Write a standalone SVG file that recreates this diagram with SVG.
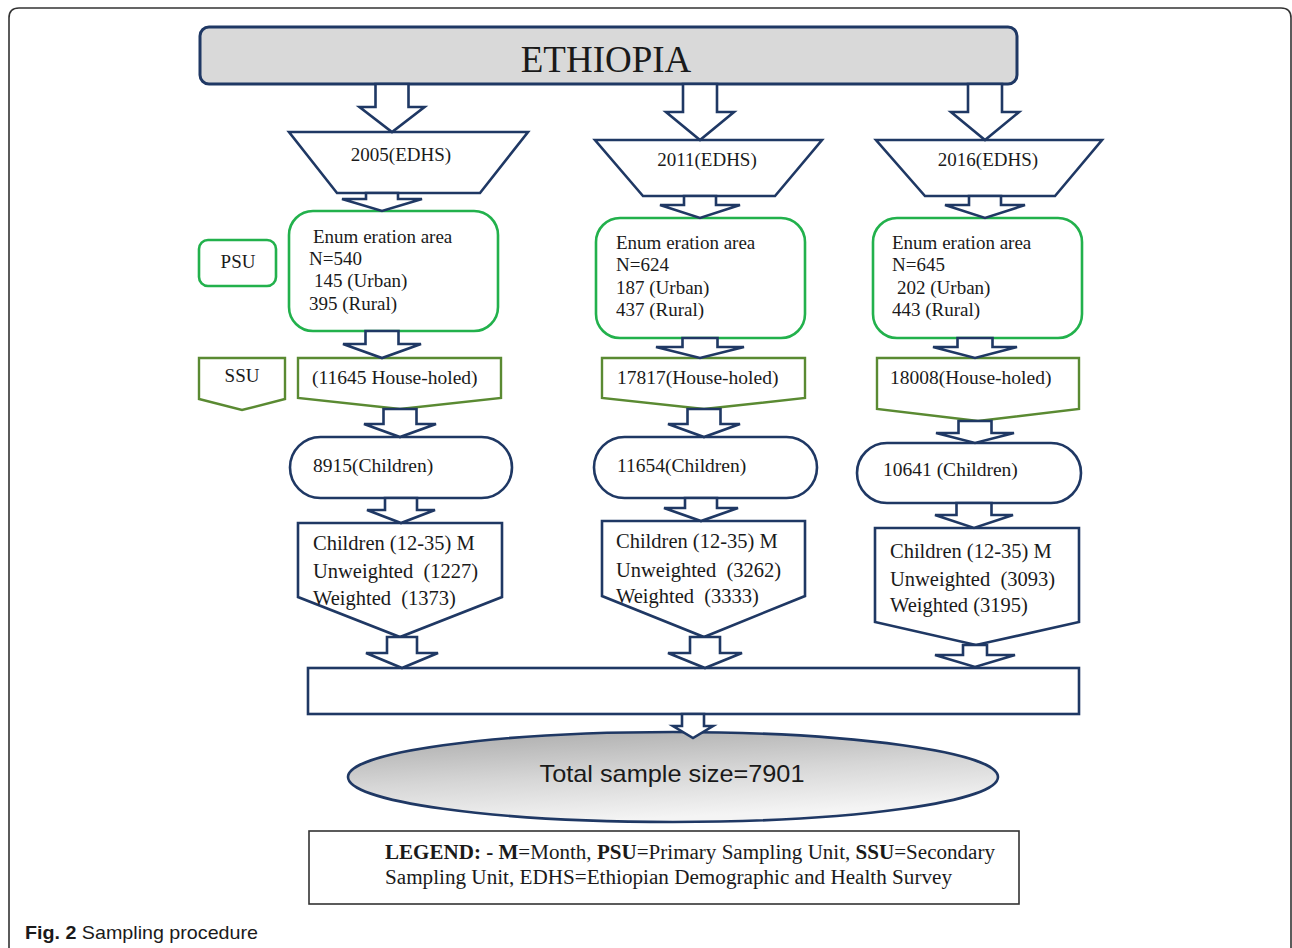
<svg xmlns="http://www.w3.org/2000/svg" width="1292" height="948" viewBox="0 0 1292 948">
<style>
.nv{fill:#fff;stroke:#1f3864;stroke-width:2.6;stroke-linejoin:miter}
.gr{fill:#fff;stroke:#22b14c;stroke-width:2.6}
.ol{fill:#fff;stroke:#5a8a32;stroke-width:2.4}
.ar{fill:#fff;stroke:#1f3864;stroke-width:2.6;stroke-linejoin:miter}
.t{font-family:"Liberation Serif","Times New Roman",serif;fill:#1a1a1a}
</style>
<defs>
<linearGradient id="eg" x1="0" y1="0" x2="0.35" y2="1">
<stop offset="0" stop-color="#a9a9a9"/>
<stop offset="0.55" stop-color="#d6d6d6"/>
<stop offset="1" stop-color="#f4f4f4"/>
</linearGradient>
</defs>
<rect width="1292" height="948" fill="#fff"/>
<path d="M9,948 V18 Q9,8 19,8 H1281 Q1291,8 1291,18 V948" fill="none" stroke="#333" stroke-width="1.6"/>

<g id="ethiopia">
<rect x="200" y="27" width="817" height="57" rx="9" fill="#d9d9d9" stroke="#1f3864" stroke-width="3"/>
<text class="t" x="606" y="72" font-size="37" text-anchor="middle">ETHIOPIA</text>
</g>

<g id="y2005">
<polygon class="nv" points="289,132 528,132 480,193 337,193"/>
<text class="t" x="401" y="161" font-size="19" text-anchor="middle">2005(EDHS)</text>
</g>
<g id="y2011">
<polygon class="nv" points="595,140 822,140 775,196 643,196"/>
<text class="t" x="707" y="166" font-size="19" text-anchor="middle">2011(EDHS)</text>
</g>
<g id="y2016">
<polygon class="nv" points="876,140 1102,140 1055,196 925,196"/>
<text class="t" x="988" y="166" font-size="19" text-anchor="middle">2016(EDHS)</text>
</g>

<g id="psu">
<rect class="gr" x="199" y="240" width="77" height="46" rx="9"/>
<text class="t" x="238" y="268" font-size="19" text-anchor="middle">PSU</text>
</g>
<g id="ssu">
<polygon class="ol" points="199,358 285,358 285,399 242,410 199,399"/>
<text class="t" x="242" y="382" font-size="19" text-anchor="middle">SSU</text>
</g>

<g id="enum2005">
<rect class="gr" x="289" y="211" width="209" height="120" rx="24"/>
<text class="t" font-size="19"><tspan x="313" y="243">Enum eration area</tspan><tspan x="309" y="265">N=540</tspan><tspan x="314" y="287">145 (Urban)</tspan><tspan x="309" y="310">395 (Rural)</tspan></text>
</g>
<g id="enum2011">
<rect class="gr" x="596" y="218" width="209" height="120" rx="24"/>
<text class="t" font-size="19"><tspan x="616" y="249">Enum eration area</tspan><tspan x="616" y="271">N=624</tspan><tspan x="616" y="294">187 (Urban)</tspan><tspan x="616" y="316">437 (Rural)</tspan></text>
</g>
<g id="enum2016">
<rect class="gr" x="873" y="218" width="209" height="120" rx="24"/>
<text class="t" font-size="19"><tspan x="892" y="249">Enum eration area</tspan><tspan x="892" y="271">N=645</tspan><tspan x="897" y="294">202 (Urban)</tspan><tspan x="892" y="316">443 (Rural)</tspan></text>
</g>

<g id="hh2005">
<polygon class="ol" points="298,358 501,358 501,398 400,409 298,398"/>
<text class="t" x="312" y="384" font-size="19.5">(11645 House-holed)</text>
</g>
<g id="hh2011">
<polygon class="ol" points="602,358 805,358 805,398 704,409 602,398"/>
<text class="t" x="617" y="384" font-size="19.5">17817(House-holed)</text>
</g>
<g id="hh2016">
<polygon class="ol" points="877,358 1079,358 1079,409 978,421 877,409"/>
<text class="t" x="890" y="384" font-size="19.5">18008(House-holed)</text>
</g>

<g id="ch2005">
<rect class="nv" x="290" y="437" width="222" height="61" rx="30.5"/>
<text class="t" x="313" y="472" font-size="19.5">8915(Children)</text>
</g>
<g id="ch2011">
<rect class="nv" x="594" y="437" width="223" height="61" rx="30.5"/>
<text class="t" x="617" y="472" font-size="19.5">11654(Children)</text>
</g>
<g id="ch2016">
<rect class="nv" x="857" y="443" width="224" height="60" rx="30"/>
<text class="t" x="883" y="476" font-size="19.5">10641 (Children)</text>
</g>

<g id="age2005">
<polygon class="nv" points="298,523 502,523 502,597 400,637 298,597"/>
<text class="t" font-size="20.5"><tspan x="313" y="550">Children (12-35) M</tspan><tspan x="313" y="578">Unweighted&#160; (1227)</tspan><tspan x="313" y="605">Weighted&#160; (1373)</tspan></text>
</g>
<g id="age2011">
<polygon class="nv" points="602,521 805,521 805,596 704,637 602,596"/>
<text class="t" font-size="20.5"><tspan x="616" y="548">Children (12-35) M</tspan><tspan x="616" y="577">Unweighted&#160; (3262)</tspan><tspan x="616" y="603">Weighted&#160; (3333)</tspan></text>
</g>
<g id="age2016">
<polygon class="nv" points="875,528 1079,528 1079,622 976,645 875,622"/>
<text class="t" font-size="20.5"><tspan x="890" y="558">Children (12-35) M</tspan><tspan x="890" y="586">Unweighted&#160; (3093)</tspan><tspan x="890" y="612">Weighted (3195)</tspan></text>
</g>

<g id="merge">
<rect class="nv" x="308" y="668" width="771" height="46"/>
</g>

<g id="total">
<ellipse cx="673" cy="777" rx="325" ry="45" fill="url(#eg)" stroke="#1f3864" stroke-width="2.6"/>
<text x="672" y="782" font-family="Liberation Sans, Arial, sans-serif" font-size="24" fill="#1a1a1a" text-anchor="middle" textLength="265" lengthAdjust="spacingAndGlyphs">Total sample size=7901</text>
</g>

<g id="connectors">
<path class="ar" d="M375.5,84 V107 H359.5 L392,132 L424.5,107 H408.5 V84 Z"/>
<path class="ar" d="M683,84 V112 H666 L700,140 L734,112 H717 V84 Z"/>
<path class="ar" d="M968,84 V112 H951 L985,140 L1019,112 H1002 V84 Z"/>

<path class="ar" d="M366,193 V199 H342 L382,211 L422,199 H398 V193 Z"/>
<path class="ar" d="M684,196 V205 H660 L700,218 L740,205 H716 V196 Z"/>
<path class="ar" d="M969,196 V205 H945 L985,218 L1025,205 H1001 V196 Z"/>

<path class="ar" d="M365.5,331 V344 H343 L382,358 L421,344 H398.5 V331 Z"/>
<path class="ar" d="M682.5,338 V347 H656 L700,358 L744,347 H717.5 V338 Z"/>
<path class="ar" d="M957.5,338 V347 H933 L975,358 L1017,347 H992.5 V338 Z"/>

<path class="ar" d="M383.5,409 V424 H364 L400,437 L436,424 H416.5 V409 Z"/>
<path class="ar" d="M687.5,409 V424 H668 L704,437 L740,424 H720.5 V409 Z"/>
<path class="ar" d="M958.5,421 V433 H936 L975,443 L1014,433 H991.5 V421 Z"/>

<path class="ar" d="M385,498 V510 H367 L401,523 L435,510 H417 V498 Z"/>
<path class="ar" d="M685,498 V508 H664 L701,521 L738,508 H717 V498 Z"/>
<path class="ar" d="M956.5,503 V515 H935 L974,528 L1013,515 H991.5 V503 Z"/>

<path class="ar" d="M387,637 V653 H366 L402,668 L438,653 H417 V637 Z"/>
<path class="ar" d="M690,637 V653 H668 L705,668 L742,653 H720 V637 Z"/>
<path class="ar" d="M963,645 V655 H935 L975,667 L1015,655 H987 V645 Z"/>

<path class="ar" d="M682,714 V726 H673 L693,738 L713,726 H704 V714 Z"/>
</g>

<g id="legend">
<rect x="309" y="831" width="710" height="73" fill="#fff" stroke="#333" stroke-width="1.6"/>
<text class="t" x="385" y="859" font-size="20" textLength="610" lengthAdjust="spacingAndGlyphs"><tspan font-weight="bold">LEGEND: - M</tspan>=Month, <tspan font-weight="bold">PSU</tspan>=Primary Sampling Unit, <tspan font-weight="bold">SSU</tspan>=Secondary</text>
<text class="t" x="385" y="884" font-size="20" textLength="567" lengthAdjust="spacingAndGlyphs">Sampling Unit, EDHS=Ethiopian Demographic and Health Survey</text>
</g>

<g id="caption">
<text x="25" y="939" font-family="Liberation Sans, Arial, sans-serif" font-size="19" fill="#1a1a1a" textLength="233" lengthAdjust="spacingAndGlyphs"><tspan font-weight="bold">Fig. 2</tspan> Sampling procedure</text>
</g>
</svg>
